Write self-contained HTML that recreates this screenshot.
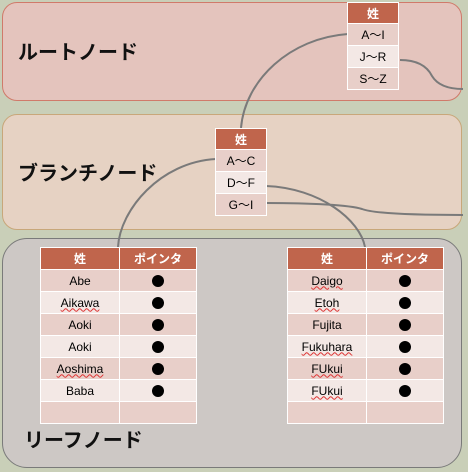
<!DOCTYPE html>
<html><head><meta charset="utf-8"><style>
body{margin:0;width:468px;height:472px;background:#c9cfb8;position:relative;overflow:hidden;font-family:"Liberation Sans","Noto Sans CJK JP",sans-serif}
.box{position:absolute;left:2px;width:460px;box-sizing:border-box}
.lbl{position:absolute;font-size:20px;font-weight:bold;color:#111;font-family:"Noto Sans CJK JP",sans-serif}
table{position:absolute;border-collapse:collapse;font-size:12px;text-align:center}
td,th{border:1.5px solid #fff;padding:0;height:21px}
th{background:#c0654c;color:#fff;font-family:"Noto Sans CJK JP",sans-serif;font-size:12px}
tr.a td{background:#e8cfc9}tr.b td{background:#f3e8e5}
.dot{display:inline-block;width:12px;height:12px;border-radius:50%;background:#000;vertical-align:middle}
.w{text-decoration:underline wavy #d33;text-decoration-thickness:1px}
</style></head><body>
<div class="box" style="top:2px;height:99px;background:#e4c4bd;border:1px solid #d07a6a;border-radius:15px"></div>
<div class="box" style="top:114px;height:116px;background:#e6d2c3;border:1px solid #c8a77a;border-radius:15px"></div>
<div class="box" style="top:238px;height:230px;background:#cdc8c5;border:1px solid #7a7a7a;border-radius:25px"></div>
<div class="lbl" style="left:18px;top:36px">ルートノード</div>
<div class="lbl" style="left:18px;top:157px">ブランチノード</div>
<div class="lbl" style="left:24px;top:424px">リーフノード</div>
<svg style="position:absolute;left:0;top:0" width="468" height="472" fill="none" stroke="#7a7a7a" stroke-width="2">
<path d="M348 34 C290 38 245 80 241 128"/>
<path d="M400 60 C420 60 428 68 432 76 C438 86 450 89 463 89"/>
<path d="M216 159 C160 162 120 210 118 247"/>
<path d="M266 186 C320 188 360 220 365 247"/>
<path d="M266 203 C310 203 350 205 362 209 C375 214 420 215 463 215"/>
</svg>
<table style="left:347px;top:2px;width:52px"><tr><th style="height:20px">姓</th></tr>
<tr class="a"><td>A～I</td></tr><tr class="b"><td>J～R</td></tr><tr class="a"><td>S～Z</td></tr></table>
<table style="left:215px;top:128px;width:52px"><tr><th style="height:20px">姓</th></tr>
<tr class="a"><td>A～C</td></tr><tr class="b"><td>D～F</td></tr><tr class="a"><td>G～I</td></tr></table>
<table style="left:40px;top:247px;width:157px"><tr><th style="width:78px;height:19px">姓</th><th>ポインタ</th></tr>
<tr class="a"><td>Abe</td><td><span class="dot"></span></td></tr>
<tr class="b"><td><span class="w">Aikawa</span></td><td><span class="dot"></span></td></tr>
<tr class="a"><td>Aoki</td><td><span class="dot"></span></td></tr>
<tr class="b"><td>Aoki</td><td><span class="dot"></span></td></tr>
<tr class="a"><td><span class="w">Aoshima</span></td><td><span class="dot"></span></td></tr>
<tr class="b"><td>Baba</td><td><span class="dot"></span></td></tr>
<tr class="a"><td></td><td></td></tr></table>
<table style="left:287px;top:247px;width:157px"><tr><th style="width:78px;height:19px">姓</th><th>ポインタ</th></tr>
<tr class="a"><td><span class="w">Daigo</span></td><td><span class="dot"></span></td></tr>
<tr class="b"><td><span class="w">Etoh</span></td><td><span class="dot"></span></td></tr>
<tr class="a"><td>Fujita</td><td><span class="dot"></span></td></tr>
<tr class="b"><td><span class="w">Fukuhara</span></td><td><span class="dot"></span></td></tr>
<tr class="a"><td><span class="w">FUkui</span></td><td><span class="dot"></span></td></tr>
<tr class="b"><td><span class="w">FUkui</span></td><td><span class="dot"></span></td></tr>
<tr class="a"><td></td><td></td></tr></table>
</body></html>
